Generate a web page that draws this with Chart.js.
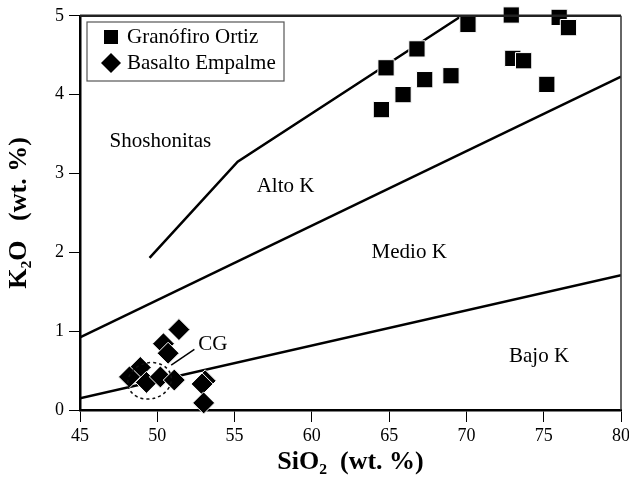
<!DOCTYPE html>
<html>
<head>
<meta charset="utf-8">
<script src="https://cdn.jsdelivr.net/npm/chart.js@4"></script>
<style>
  html, body { margin: 0; padding: 0; background: #fff; }
  #wrap { width: 629px; height: 482px; }
</style>
</head>
<body>
<div id="wrap"><canvas id="k2o"></canvas></div>
<script>
// SiO2 vs K2O (Peccerillo & Taylor style fields)
const ortizSiO2 = [70.1, 72.9, 76.0, 76.6, 66.8, 64.8, 67.3, 69.0, 65.9, 64.5, 73.0, 73.7, 75.2];
const ortizK2O  = [4.89, 5.01, 4.98, 4.85, 4.58, 4.34, 4.19, 4.24, 4.00, 3.81, 4.46, 4.43, 4.13];

const empalmeSiO2 = [51.4, 50.4, 50.7, 48.9, 48.2, 49.3, 50.2, 51.1, 53.1, 52.9, 53.0];
const empalmeK2O  = [1.02, 0.84, 0.72, 0.54, 0.42, 0.35, 0.42, 0.38, 0.37, 0.33, 0.09];

// field boundaries
const shoshoLine = [[49.5, 1.93], [55.2, 3.15], [69.7, 5.0]];
const altoLine   = [[45, 0.92], [80, 4.23]];
const bajoLine   = [[45, 0.15], [80, 1.71]];

const xTicks = [45, 50, 55, 60, 65, 70, 75, 80];
const yTicks = [0, 1, 2, 3, 4, 5];

const fieldLabels = [
  { text: 'Shoshonitas', x: 50.2, y: 3.4 },
  { text: 'Alto K',      x: 58.3, y: 2.84 },
  { text: 'Medio K',     x: 66.3, y: 2.0 },
  { text: 'Bajo K',      x: 74.7, y: 0.68 },
  { text: 'CG',          x: 53.6, y: 0.83 }
];

const serif = '"Liberation Serif", "DejaVu Serif", serif';

const toPts = (xs, ys) => xs.map((x, i) => ({ x, y: ys[i] }));
const linePts = arr => arr.map(p => ({ x: p[0], y: p[1] }));

const boundary = data => ({
  type: 'line',
  data: linePts(data),
  borderColor: '#000',
  borderWidth: 2.5,
  pointRadius: 0,
  fill: false,
  order: 2
});

// let the "80" label hang over the right margin like the original
const rightEdge = {
  id: 'rightEdge',
  afterLayout(chart) {
    const x = chart.scales.x;
    const r = chart.width - 8;
    x.right = r;
    x.width = r - x.left;
    chart.chartArea.right = r;
    chart.chartArea.width = r - chart.chartArea.left;
    x.configure();
  }
};

const annotations = {
  id: 'annotations',
  afterDatasetsDraw(chart) {
    const { ctx, chartArea: a, scales: { x, y } } = chart;
    ctx.save();

    // box top / right
    ctx.strokeStyle = '#222';
    ctx.lineWidth = 2.5;
    ctx.beginPath();
    ctx.moveTo(a.left, a.top);
    ctx.lineTo(a.right, a.top);
    ctx.stroke();
    ctx.lineWidth = 1.5;
    ctx.strokeStyle = '#333';
    ctx.beginPath();
    ctx.moveTo(a.right, a.top);
    ctx.lineTo(a.right, a.bottom);
    ctx.stroke();

    // field labels
    ctx.fillStyle = '#000';
    ctx.font = '21px ' + serif;
    ctx.textAlign = 'center';
    ctx.textBaseline = 'middle';
    fieldLabels.forEach(l => ctx.fillText(l.text, x.getPixelForValue(l.x), y.getPixelForValue(l.y)));

    // CG leader line
    ctx.strokeStyle = '#000';
    ctx.lineWidth = 1.5;
    ctx.beginPath();
    ctx.moveTo(x.getPixelForValue(52.4), y.getPixelForValue(0.77));
    ctx.lineTo(x.getPixelForValue(50.9), y.getPixelForValue(0.57));
    ctx.stroke();

    // CG dashed ellipse
    ctx.setLineDash([3, 3]);
    ctx.lineWidth = 1.5;
    ctx.strokeStyle = '#111';
    ctx.beginPath();
    ctx.ellipse(x.getPixelForValue(49.5), y.getPixelForValue(0.37), 22, 18, -0.25, 0, Math.PI * 2);
    ctx.stroke();
    ctx.setLineDash([]);

    // legend
    const lx = 87, ly = 22, lw = 197, lh = 59;
    ctx.fillStyle = '#fff';
    ctx.fillRect(lx, ly, lw, lh);
    ctx.strokeStyle = '#555';
    ctx.lineWidth = 1.2;
    ctx.strokeRect(lx, ly, lw, lh);
    ctx.fillStyle = '#000';
    ctx.fillRect(104, 30, 14, 14);
    ctx.beginPath();
    ctx.moveTo(101, 63);
    ctx.lineTo(111, 53);
    ctx.lineTo(121, 63);
    ctx.lineTo(111, 73);
    ctx.closePath();
    ctx.fill();
    ctx.font = '21px ' + serif;
    ctx.textAlign = 'left';
    ctx.fillText('Granófiro Ortiz', 127, 37);
    ctx.fillText('Basalto Empalme', 127, 63);

    ctx.restore();
  }
};

new Chart(document.getElementById('k2o'), {
  type: 'scatter',
  data: {
    datasets: [
      {
        label: 'Granófiro Ortiz',
        data: toPts(ortizSiO2, ortizK2O),
        pointStyle: 'rect',
        pointRadius: 11.5,
        backgroundColor: '#000',
        borderColor: '#fff',
        borderWidth: 1,
        clip: false,
        order: 0
      },
      {
        label: 'Basalto Empalme',
        data: toPts(empalmeSiO2, empalmeK2O),
        pointStyle: 'rectRot',
        pointRadius: 11,
        backgroundColor: '#000',
        borderColor: '#fff',
        borderWidth: 1,
        clip: false,
        order: 0
      },
      boundary(shoshoLine),
      boundary(altoLine),
      boundary(bajoLine)
    ]
  },
  options: {
    responsive: true,
    maintainAspectRatio: false,
    animation: false,
    layout: { padding: { top: 13, right: 8, left: 0, bottom: 0 } },
    plugins: { legend: { display: false }, tooltip: { enabled: false } },
    scales: {
      x: {
        type: 'linear',
        min: 45, max: 80,
        afterBuildTicks: s => { s.ticks = xTicks.map(v => ({ value: v })); },
        afterFit: s => { s.height = 72; },
        border: { display: true, color: '#000', width: 2.5 },
        grid: { drawOnChartArea: false, drawTicks: true, tickLength: 12, color: '#000', lineWidth: 1 },
        ticks: { color: '#000', font: { family: serif, size: 18 }, padding: 3, maxRotation: 0 },
        title: {
          display: true,
          text: 'SiO₂  (wt. %)',
          color: '#000',
          font: { family: serif, size: 26, weight: 'bold' },
          padding: { top: 0 }
        }
      },
      y: {
        type: 'linear',
        min: 0, max: 5,
        afterBuildTicks: s => { s.ticks = yTicks.map(v => ({ value: v })); },
        afterFit: s => { s.width = 80; },
        border: { display: true, color: '#000', width: 2.5 },
        grid: { drawOnChartArea: false, drawTicks: true, tickLength: 11, color: '#000', lineWidth: 1 },
        ticks: { color: '#000', font: { family: serif, size: 18 }, padding: 5 },
        title: {
          display: true,
          text: 'K₂O   (wt. %)',
          color: '#000',
          font: { family: serif, size: 26, weight: 'bold' },
          padding: { bottom: 2 }
        }
      }
    }
  },
  plugins: [rightEdge, annotations]
});
</script>
</body>
</html>
